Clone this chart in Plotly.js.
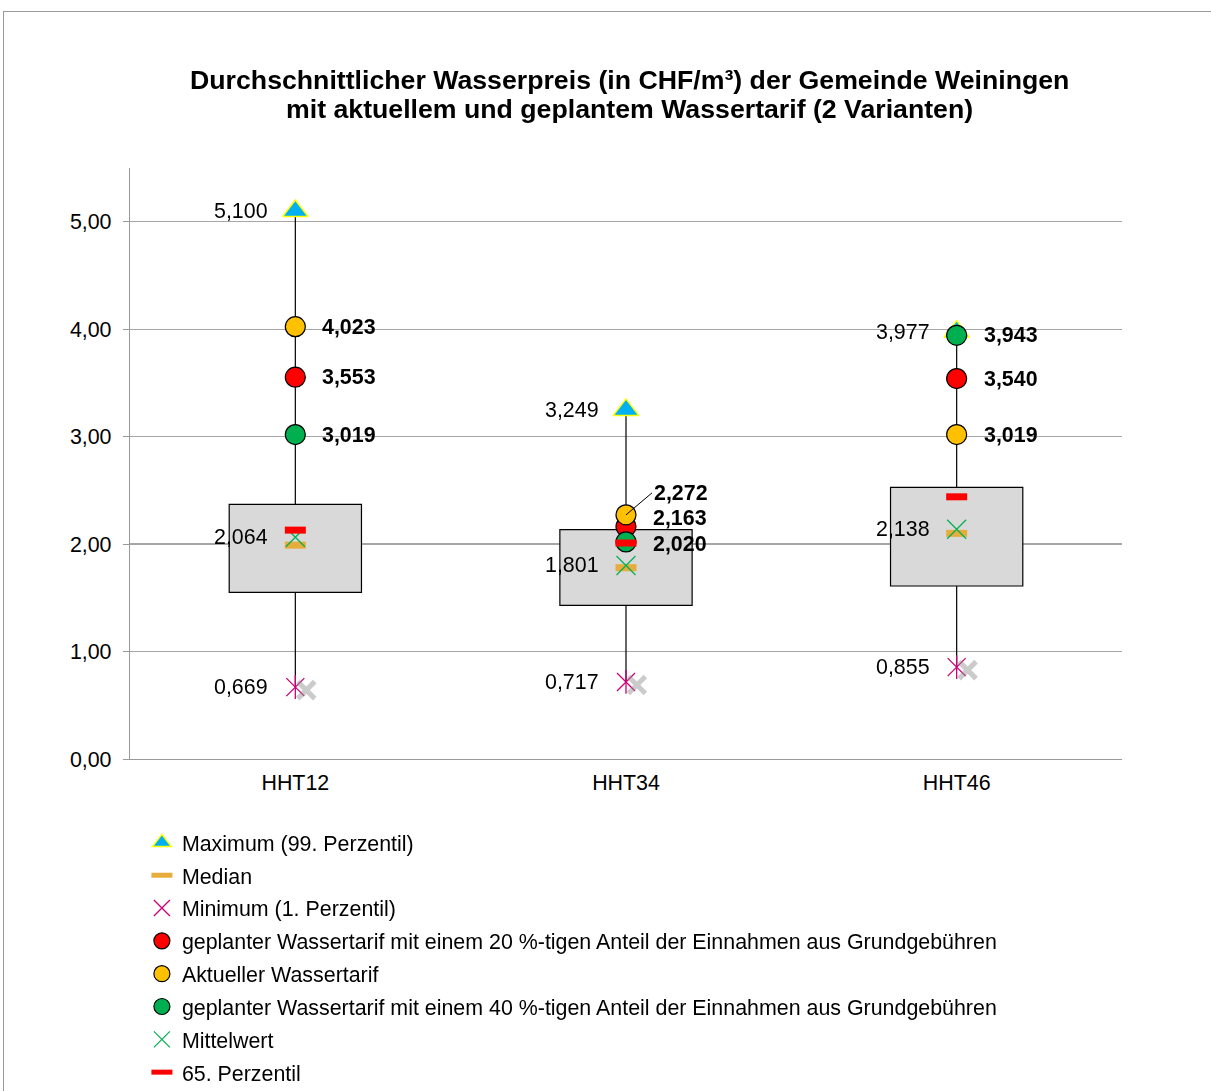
<!DOCTYPE html>
<html>
<head>
<meta charset="utf-8">
<script src="https://cdn.plot.ly/plotly-3.0.1.min.js"></script>
<style>
  html, body { margin: 0; padding: 0; background: #ffffff; }
  #wrap { position: relative; width: 1211px; height: 1091px; overflow: hidden; }
  #chart { width: 1211px; height: 1091px; }
  #frame { position: absolute; left: 3px; top: 11px; width: 1300px; height: 1200px;
           border-left: 1px solid #9a9a9a; border-top: 1px solid #9a9a9a; pointer-events: none; }
</style>
</head>
<body>
<div id="wrap"><div id="chart"></div><div id="frame"></div></div>
<script>
// ---- data ----
const categories   = ['HHT12', 'HHT34', 'HHT46'];
const maxVals      = [5.100, 3.249, 3.977];   // Maximum (99. Perzentil)
const medianVals   = [1.99, 1.78, 2.10];      // Median
const minVals      = [0.669, 0.717, 0.855];   // Minimum (1. Perzentil)
const tarif20Vals  = [3.553, 2.163, 3.540];   // geplanter Tarif 20 %
const aktuellVals  = [4.023, 2.272, 3.019];   // Aktueller Wassertarif
const tarif40Vals  = [3.019, 2.020, 3.943];   // geplanter Tarif 40 %
const meanVals     = [2.064, 1.801, 2.138];   // Mittelwert
const p65Vals      = [2.13, 2.01, 2.44];      // 65. Perzentil
const q1Vals       = [1.55, 1.43, 1.61];      // box bottom (25. Perzentil)
const q3Vals       = [2.37, 2.135, 2.527];    // box top (75. Perzentil)

const titleLine1 = 'Durchschnittlicher Wasserpreis (in CHF/m³) der Gemeinde Weiningen';
const titleLine2 = 'mit aktuellem und geplantem Wassertarif (2 Varianten)';

const FONT = 'Liberation Sans, Arial, sans-serif';
const FS = 21.4;
const fmt = v => v.toFixed(3).replace('.', ',');

// whiskers: min -> q1 and q3 -> max for each category
const wx = [], wy = [];
categories.forEach((c, i) => {
  wx.push(c, c, null, c, c, null);
  wy.push(minVals[i], q1Vals[i], null, q3Vals[i], maxVals[i], null);
});

const traces = [
  { type: 'bar', x: categories, y: q3Vals.map((v, i) => v - q1Vals[i]), base: q1Vals,
    width: 0.4, marker: { color: '#d9d9d9', line: { color: '#000000', width: 1.2 } },
    showlegend: false, hoverinfo: 'skip' },
  { type: 'scatter', mode: 'lines', x: wx, y: wy, line: { color: '#000000', width: 1.2 },
    showlegend: false, hoverinfo: 'skip' },
  // shadow of the minimum markers (drawn on a slightly shifted overlay axis)
  { type: 'scatter', mode: 'markers', x: categories, y: minVals, xaxis: 'x2', yaxis: 'y2',
    marker: { symbol: 'x-thin-open', size: 17, color: '#8c8c8c', line: { width: 5, color: '#8c8c8c' } },
    opacity: 0.45, showlegend: false, hoverinfo: 'skip' },
  { type: 'scatter', mode: 'markers', name: 'Maximum (99. Perzentil)', legendgroup: 'g1',
    x: categories, y: maxVals,
    marker: { symbol: 'triangle-up', size: 22, color: '#00b0f0', line: { color: '#ffff00', width: 1.5 } } },
  { type: 'scatter', mode: 'markers', name: 'Median', legendgroup: 'g2',
    x: categories, y: medianVals,
    marker: { symbol: 'line-ew', size: 15, color: '#e6ac3c', line: { color: '#e6ac3c', width: 7 } } },
  { type: 'scatter', mode: 'markers', x: categories, y: minVals, showlegend: false, legendgroup: 'g3',
    marker: { symbol: 'line-ns', size: 17, color: '#cc0077', line: { color: '#cc0077', width: 1.3 } } },
  { type: 'scatter', mode: 'markers', name: 'Minimum (1. Perzentil)', legendgroup: 'g3',
    x: categories, y: minVals,
    marker: { symbol: 'x-thin-open', size: 18, color: '#cc0077', line: { color: '#cc0077', width: 1.3 } } },
  { type: 'scatter', mode: 'markers', name: 'geplanter Wassertarif mit einem 20 %-tigen Anteil der Einnahmen aus Grundgebühren', legendgroup: 'g4',
    x: categories, y: tarif20Vals,
    marker: { symbol: 'circle', size: 20, color: '#ff0000', line: { color: '#000000', width: 1.2 } } },
  { type: 'scatter', mode: 'markers', name: 'Aktueller Wassertarif', legendgroup: 'g5',
    x: categories, y: aktuellVals,
    marker: { symbol: 'circle', size: 20, color: '#ffc000', line: { color: '#000000', width: 1.2 } } },
  { type: 'scatter', mode: 'markers', name: 'geplanter Wassertarif mit einem 40 %-tigen Anteil der Einnahmen aus Grundgebühren', legendgroup: 'g6',
    x: categories, y: tarif40Vals,
    marker: { symbol: 'circle', size: 20, color: '#00b050', line: { color: '#000000', width: 1.2 } } },
  { type: 'scatter', mode: 'markers', name: 'Mittelwert', legendgroup: 'g7',
    x: categories, y: meanVals,
    marker: { symbol: 'x-thin-open', size: 19, color: '#00b050', line: { color: '#00b050', width: 1.2 } } },
  { type: 'scatter', mode: 'markers', name: '65. Perzentil', legendgroup: 'g8',
    x: categories, y: p65Vals,
    marker: { symbol: 'line-ew', size: 15, color: '#ff0000', line: { color: '#ff0000', width: 7 } } }
];

// ---- value labels ----
const annotations = [];
const leftSeries = [maxVals, meanVals, minVals];
leftSeries.forEach(arr => arr.forEach((v, i) => {
  annotations.push({ x: categories[i], y: v, xref: 'x', yref: 'y', text: fmt(v), showarrow: false,
    xanchor: 'right', yanchor: 'middle', xshift: -25, font: { family: FONT, size: FS, color: '#000000' } });
}));
// bold labels to the right of the tariff circles; HHT34 labels are nudged to avoid overlap
const rightSeries = [
  { vals: aktuellVals, nudge: [0, 22, 0], arrow: [false, true, false] },
  { vals: tarif20Vals, nudge: [0, 9, 0],  arrow: [false, false, false] },
  { vals: tarif40Vals, nudge: [0, -2, 0], arrow: [false, false, false] }
];
rightSeries.forEach(s => s.vals.forEach((v, i) => {
  const a = { x: categories[i], y: v, xref: 'x', yref: 'y', text: '<b>' + fmt(v) + '</b>',
    font: { family: FONT, size: FS, color: '#000000' }, xanchor: 'left', yanchor: 'middle' };
  if (s.arrow[i]) {
    Object.assign(a, { showarrow: true, arrowhead: 0, arrowwidth: 1, arrowcolor: '#000000',
      ax: 26, ay: -s.nudge[i], standoff: 0 });
  } else {
    Object.assign(a, { showarrow: false, xshift: 25, yshift: s.nudge[i] });
  }
  annotations.push(a);
}));
// second title line (tighter line spacing than Plotly's multi-line title)
annotations.push({ xref: 'paper', yref: 'paper', x: 0.504, y: 1.0998, xanchor: 'center', yanchor: 'middle',
  showarrow: false, text: '<b>' + titleLine2 + '</b>', font: { family: FONT, size: 26.7, color: '#000000' } });

const layout = {
  width: 1211, height: 1091,
  margin: { l: 130, r: 89, t: 168, b: 332, autoexpand: false },
  paper_bgcolor: '#ffffff', plot_bgcolor: '#ffffff',
  font: { family: FONT, size: FS, color: '#000000' },
  title: {
    text: '<b>' + titleLine1 + '</b>',
    font: { family: FONT, size: 26.7, color: '#000000' },
    x: 0.52, xref: 'container', xanchor: 'center',
    y: 1 - 80 / 1091, yref: 'container', yanchor: 'middle'
  },
  separators: ',.',
  showlegend: true,
  legend: {
    x: 0.012, xanchor: 'left', y: -0.1066, yanchor: 'top', orientation: 'v',
    font: { family: FONT, size: FS, color: '#000000' }, tracegroupgap: 2,
    bgcolor: 'rgba(0,0,0,0)', traceorder: 'grouped'
  },
  xaxis: {
    type: 'category', categoryarray: categories, range: [-0.5, 2.5],
    showline: true, linecolor: '#9a9a9a', linewidth: 1.2, showgrid: false, zeroline: false,
    ticks: '', ticklabelstandoff: 4, tickfont: { family: FONT, size: FS, color: '#000000' }, fixedrange: true
  },
  yaxis: {
    range: [0, 5.5], tick0: 0, dtick: 1, tickformat: '.2f',
    showline: true, linecolor: '#9a9a9a', linewidth: 1.2,
    showgrid: true, gridcolor: '#a6a6a6', gridwidth: 1.2, zeroline: false,
    ticks: 'outside', ticklen: 6, tickcolor: '#9a9a9a', ticklabelstandoff: 7,
    tickfont: { family: FONT, size: FS, color: '#000000' }, fixedrange: true
  },
  xaxis2: { type: 'category', categoryarray: categories, overlaying: 'x', range: [-0.533, 2.467], visible: false },
  yaxis2: { overlaying: 'y', range: [0.028, 5.528], visible: false },
  bargap: 0,
  annotations: annotations
};

Plotly.newPlot('chart', traces, layout, { staticPlot: true, displayModeBar: false });
</script>
</body>
</html>
